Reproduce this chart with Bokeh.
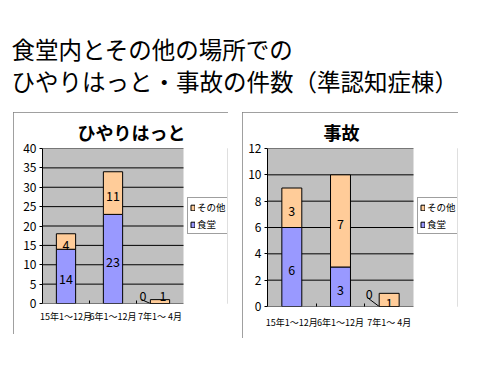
from bokeh.plotting import figure
from bokeh.models import (Range1d, Legend, LegendItem, FixedTicker,
                          ColumnDataSource, Spacer)
from bokeh.layouts import column, row
from bokeh.embed import file_html
from bokeh.resources import INLINE
from bokeh.core.properties import value

FONT = "Noto Sans CJK JP"

# ---- data ----
title_lines = ["食堂内とその他の場所での", "ひやりはっと・事故の件数（準認知症棟）"]
categories = ["15年1～12月", "6年1～12月", "7年1～ 4月"]
series_names = ["食堂", "その他"]
hiyari_title = "ひやりはっと"
hiyari_shokudo = [14, 23, 0]
hiyari_sonota = [4, 11, 1]
hiyari_ticks = [0, 5, 10, 15, 20, 25, 30, 35, 40]
jiko_title = "事故"
jiko_shokudo = [6, 3, 0]
jiko_sonota = [3, 7, 1]
jiko_ticks = [0, 2, 4, 6, 8, 10, 12]

COLORS = {"食堂": "#9999FF", "その他": "#FFCC99"}
BAR_W = 0.41


def make_chart(name, shokudo, sonota, ticks, plot_w, fw, fh, bl, br, bt, bb,
               title_off, xlab_std, legend_xy, zero_off, small_off):
    n = len(categories)
    xs = [i + 0.5 for i in range(n)]
    p = figure(x_range=Range1d(0, n * fw / plot_w),
               y_range=Range1d(ticks[0], ticks[-1]),
               frame_width=fw, frame_height=fh,
               min_border_left=bl, min_border_right=br,
               min_border_top=bt, min_border_bottom=bb,
               output_backend="svg", toolbar_location=None,
               background_fill_color="white", border_fill_color="white",
               outline_line_color=None,
               styles={"outline": "1px solid #808080", "outline-offset": "-1px"})
    p.title.text = name
    p.title.align = "left"
    p.title.offset = title_off
    p.title.text_font = FONT
    p.title.text_font_size = "18px"
    p.title.text_font_style = "bold"
    p.title.text_color = "black"
    p.title.standoff = 8

    # plot area background and gridlines
    p.quad(left=[0], right=[n], bottom=[ticks[0]], top=[ticks[-1]],
           fill_color="#C0C0C0", line_color=None)
    p.segment(x0=[0] * len(ticks), x1=[n] * len(ticks), y0=ticks, y1=ticks,
              line_color="black", line_width=1)

    src = ColumnDataSource(dict(x=xs, 食堂=shokudo, その他=sonota))
    rs = p.vbar_stack(series_names, x="x", width=BAR_W, source=src,
                      fill_color=[COLORS[s] for s in series_names],
                      line_color="black", line_width=1)

    # data labels
    lx, ly, lt, dx, dy = [], [], [], [], []
    upp = (ticks[-1] - ticks[0]) / fh
    for i in range(n):
        a, b = shokudo[i], sonota[i]
        lx.append(xs[i]); ly.append(a / 2); lt.append(str(a))
        if a == 0:
            dx.append(zero_off[0]); dy.append(zero_off[1])
        else:
            dx.append(0); dy.append(3)
        lx.append(xs[i]); ly.append(a + b / 2); lt.append(str(b))
        if b / upp < 8:
            dx.append(small_off[0]); dy.append(small_off[1])
        else:
            dx.append(0); dy.append(3)
    lsrc = ColumnDataSource(dict(x=lx, y=ly, text=lt, dx=dx, dy=dy))
    p.text(x="x", y="y", text="text", x_offset="dx", y_offset="dy", source=lsrc,
           text_align="center", text_baseline="middle",
           text_font=value(FONT), text_font_size="12.5px", text_color="black")

    # leader line for zero label
    catw = plot_w / n
    for i in range(n):
        if shokudo[i] == 0:
            p.segment(x0=[xs[i] - BAR_W / 2 - (abs(zero_off[0]) - 8) / catw],
                      y0=[(abs(zero_off[1]) - 4) * upp],
                      x1=[xs[i] - BAR_W / 2], y1=[0],
                      line_color="black", line_width=1)

    legend = Legend(items=[LegendItem(label="その他", renderers=[rs[1]]),
                           LegendItem(label="食堂", renderers=[rs[0]])],
                    location=legend_xy,
                    border_line_color="#404040", border_line_width=1,
                    background_fill_color="white", background_fill_alpha=1,
                    label_text_font=FONT, label_text_font_size="9.5px",
                    label_text_color="black",
                    glyph_width=5, glyph_height=7, label_standoff=2,
                    padding=2, spacing=3, margin=0, label_height=12)
    p.add_layout(legend)

    p.grid.visible = False
    p.yaxis.ticker = FixedTicker(ticks=ticks)
    p.yaxis.axis_line_color = "black"
    p.yaxis.major_tick_out = 3
    p.yaxis.major_tick_in = 0
    p.yaxis.minor_tick_line_color = None
    p.yaxis.major_label_text_font = FONT
    p.yaxis.major_label_text_font_size = "12px"
    p.yaxis.major_label_text_color = "black"
    p.yaxis.major_label_standoff = 3
    p.xaxis.ticker = FixedTicker(ticks=xs, minor_ticks=list(range(1, n)))
    p.xaxis.major_label_overrides = {x: c for x, c in zip(xs, categories)}
    p.xaxis.axis_line_color = None
    p.xaxis.major_tick_line_color = None
    p.xaxis.major_tick_out = 0
    p.xaxis.major_tick_in = 0
    p.xaxis.minor_tick_line_color = "black"
    p.xaxis.minor_tick_in = 3
    p.xaxis.minor_tick_out = 0
    p.xaxis.major_label_text_font = FONT
    p.xaxis.major_label_text_font_size = "9px"
    p.xaxis.major_label_text_color = "black"
    p.xaxis.major_label_standoff = xlab_std
    return p


# title figure
tf = figure(width=470, height=112, x_range=Range1d(0, 470), y_range=Range1d(112, 0),
            output_backend="svg", toolbar_location=None, min_border=0,
            outline_line_color=None)
tf.axis.visible = False
tf.grid.visible = False
tsrc = ColumnDataSource(dict(x=[11, 11], y=[48, 80], text=title_lines))
tf.text(x="x", y="y", text="text", source=tsrc, text_align="left",
        text_baseline="middle", text_font=value(FONT), text_font_size="23.5px",
        text_color="black")

left = make_chart(hiyari_title, hiyari_shokudo, hiyari_sonota, hiyari_ticks,
                  plot_w=141, fw=185, fh=155, bl=29, br=1, bt=33, bb=31,
                  title_off=35, xlab_std=6, legend_xy=(145, 69),
                  zero_off=(-17, -8), small_off=(3, -6))
right = make_chart(jiko_title, jiko_shokudo, jiko_sonota, jiko_ticks,
                   plot_w=146, fw=190, fh=158, bl=25, br=1, bt=33, bb=32,
                   title_off=56, xlab_std=9, legend_xy=(150, 72),
                   zero_off=(-20, -13), small_off=(0, 3))

layout = column(tf, row(Spacer(width=13), left, Spacer(width=14), right))
open("out.html", "w").write(file_html(layout, INLINE))
